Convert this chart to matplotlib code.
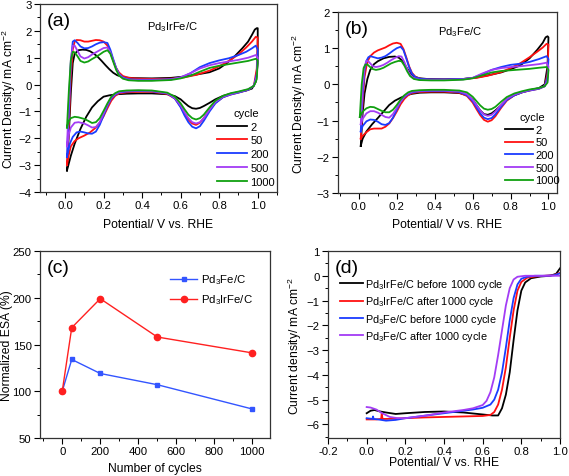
import matplotlib
matplotlib.use("Agg")
import matplotlib.pyplot as plt
from matplotlib.ticker import MultipleLocator, AutoMinorLocator, FormatStrFormatter

plt.rcParams['font.family'] = ['Liberation Sans', 'DejaVu Sans']
plt.rcParams['mathtext.default'] = 'regular'

# ---- data ----
cycles = ['2', '50', '200', '500', '1000']
cycle_colors = ['#000000', '#ff1010', '#1a3cff', '#a33cf5', '#10a010']

# (a) Pd3IrFe/C CV loops: anodic 0->1 V then cathodic 1->0 V
a2_x = [0.01, 0.02, 0.03, 0.04, 0.05, 0.07, 0.09, 0.11, 0.13, 0.15, 0.17, 0.19, 0.21, 0.23, 0.25, 0.27, 0.29, 0.32, 0.36, 0.45, 0.55, 0.62, 0.68, 0.75, 0.8, 0.84, 0.88, 0.92, 0.95, 0.97, 0.985, 0.995,
        1.0, 1.0, 0.99, 0.97, 0.94, 0.9, 0.86, 0.82, 0.78, 0.75, 0.72, 0.7, 0.68, 0.66, 0.64, 0.62, 0.6, 0.57, 0.53, 0.45, 0.38, 0.32, 0.27, 0.23, 0.2, 0.17, 0.14, 0.11, 0.08, 0.05, 0.03, 0.01]
a2_y = [-3.2, -1.8, -0.3, 0.8, 1.15, 1.28, 1.3, 1.29, 1.24, 1.15, 1.03, 0.88, 0.72, 0.57, 0.44, 0.35, 0.3, 0.26, 0.24, 0.23, 0.25, 0.3, 0.37, 0.46, 0.6, 0.8, 1.05, 1.35, 1.6, 1.85, 2.05, 2.1,
        2.1, 0.8, 0.1, -0.15, -0.22, -0.28, -0.34, -0.42, -0.55, -0.68, -0.8, -0.87, -0.9, -0.88, -0.8, -0.68, -0.55, -0.43, -0.36, -0.33, -0.33, -0.34, -0.36, -0.4, -0.45, -0.62, -0.85, -1.2, -1.65, -2.2, -2.65, -3.2]
a50_x = [0.01, 0.02, 0.03, 0.04, 0.05, 0.06, 0.08, 0.1, 0.12, 0.14, 0.16, 0.18, 0.2, 0.22, 0.235, 0.25, 0.265, 0.28, 0.3, 0.33, 0.38, 0.45, 0.55, 0.62, 0.68, 0.75, 0.8, 0.85, 0.9, 0.94, 0.97, 0.99, 1.0,
         1.0, 0.995, 0.98, 0.95, 0.9, 0.86, 0.82, 0.78, 0.75, 0.72, 0.7, 0.68, 0.66, 0.64, 0.62, 0.6, 0.57, 0.53, 0.45, 0.38, 0.32, 0.28, 0.26, 0.24, 0.22, 0.2, 0.18, 0.16, 0.13, 0.1, 0.07, 0.05, 0.03, 0.02, 0.01]
a50_y = [-3.0, -1.5, 0.3, 1.3, 1.6, 1.66, 1.65, 1.6, 1.6, 1.63, 1.66, 1.65, 1.6, 1.45, 1.2, 0.9, 0.62, 0.45, 0.32, 0.25, 0.22, 0.21, 0.22, 0.27, 0.36, 0.52, 0.68, 0.88, 1.12, 1.38, 1.6, 1.78, 1.75,
         1.75, 0.6, -0.05, -0.2, -0.3, -0.37, -0.47, -0.68, -0.95, -1.25, -1.42, -1.5, -1.45, -1.3, -1.08, -0.82, -0.52, -0.35, -0.27, -0.27, -0.29, -0.33, -0.42, -0.6, -0.88, -1.18, -1.42, -1.6, -1.78, -1.9, -2.0, -2.1, -2.3, -2.6, -3.0]
a200_x = [0.01, 0.02, 0.03, 0.04, 0.05, 0.065, 0.08, 0.1, 0.12, 0.14, 0.16, 0.18, 0.2, 0.22, 0.235, 0.25, 0.265, 0.28, 0.3, 0.33, 0.38, 0.45, 0.55, 0.6, 0.65, 0.7, 0.75, 0.8, 0.85, 0.9, 0.94, 0.97, 0.99, 1.0,
          1.0, 0.995, 0.98, 0.95, 0.9, 0.86, 0.82, 0.78, 0.75, 0.72, 0.7, 0.68, 0.66, 0.64, 0.62, 0.6, 0.57, 0.53, 0.45, 0.38, 0.32, 0.28, 0.26, 0.24, 0.22, 0.2, 0.18, 0.16, 0.14, 0.12, 0.1, 0.08, 0.06, 0.04, 0.025, 0.01]
a200_y = [-2.7, -1.0, 0.8, 1.6, 1.65, 1.55, 1.42, 1.35, 1.36, 1.42, 1.5, 1.56, 1.58, 1.55, 1.3, 0.95, 0.62, 0.4, 0.27, 0.2, 0.18, 0.18, 0.2, 0.26, 0.42, 0.65, 0.8, 0.9, 0.98, 1.1, 1.22, 1.35, 1.45, 1.3,
          1.3, 0.4, -0.05, -0.2, -0.3, -0.37, -0.47, -0.7, -1.0, -1.35, -1.55, -1.63, -1.57, -1.4, -1.15, -0.85, -0.52, -0.33, -0.25, -0.24, -0.26, -0.3, -0.38, -0.52, -0.8, -1.15, -1.5, -1.75, -1.83, -1.82, -1.78, -1.75, -1.78, -1.95, -2.2, -2.7]
a500_x = [0.01, 0.02, 0.03, 0.04, 0.05, 0.065, 0.08, 0.1, 0.12, 0.14, 0.16, 0.18, 0.2, 0.22, 0.235, 0.25, 0.265, 0.28, 0.3, 0.33, 0.38, 0.45, 0.55, 0.6, 0.65, 0.7, 0.75, 0.8, 0.85, 0.9, 0.95, 0.99, 1.0,
          1.0, 0.995, 0.98, 0.95, 0.9, 0.86, 0.82, 0.78, 0.75, 0.72, 0.7, 0.68, 0.66, 0.64, 0.62, 0.6, 0.57, 0.53, 0.45, 0.38, 0.32, 0.28, 0.26, 0.24, 0.22, 0.2, 0.18, 0.16, 0.14, 0.12, 0.1, 0.07, 0.05, 0.03, 0.02, 0.01]
a500_y = [-2.3, -0.6, 0.9, 1.45, 1.45, 1.25, 1.05, 0.97, 1.02, 1.12, 1.2, 1.28, 1.36, 1.38, 1.2, 0.9, 0.6, 0.38, 0.24, 0.18, 0.16, 0.16, 0.19, 0.27, 0.42, 0.6, 0.72, 0.8, 0.86, 0.92, 1.0, 1.1, 1.0,
          1.0, 0.3, -0.05, -0.18, -0.28, -0.35, -0.45, -0.65, -0.93, -1.25, -1.4, -1.45, -1.4, -1.25, -1.03, -0.78, -0.5, -0.32, -0.24, -0.23, -0.24, -0.28, -0.35, -0.48, -0.75, -1.08, -1.4, -1.58, -1.6, -1.52, -1.45, -1.4, -1.42, -1.6, -1.85, -2.3]
a1000_x = [0.01, 0.02, 0.03, 0.04, 0.05, 0.065, 0.08, 0.1, 0.12, 0.14, 0.16, 0.18, 0.2, 0.22, 0.235, 0.25, 0.265, 0.28, 0.3, 0.33, 0.38, 0.45, 0.55, 0.6, 0.65, 0.7, 0.75, 0.8, 0.85, 0.9, 0.95, 0.99, 1.0,
           1.0, 0.995, 0.98, 0.95, 0.9, 0.86, 0.82, 0.78, 0.75, 0.72, 0.7, 0.68, 0.66, 0.64, 0.62, 0.6, 0.57, 0.53, 0.45, 0.38, 0.32, 0.28, 0.26, 0.24, 0.22, 0.2, 0.18, 0.16, 0.14, 0.12, 0.1, 0.07, 0.05, 0.03, 0.02, 0.01]
a1000_y = [-1.6, -0.2, 0.9, 1.22, 1.2, 1.05, 0.88, 0.82, 0.86, 0.95, 1.03, 1.12, 1.22, 1.28, 1.15, 0.85, 0.55, 0.34, 0.22, 0.16, 0.14, 0.14, 0.17, 0.23, 0.33, 0.48, 0.62, 0.7, 0.76, 0.82, 0.88, 0.96, 0.9,
           0.9, 0.2, -0.05, -0.17, -0.26, -0.32, -0.42, -0.6, -0.85, -1.12, -1.25, -1.3, -1.25, -1.12, -0.92, -0.7, -0.45, -0.3, -0.22, -0.21, -0.22, -0.25, -0.32, -0.45, -0.7, -0.98, -1.25, -1.4, -1.43, -1.35, -1.28, -1.22, -1.2, -1.25, -1.35, -1.6]

# (b) Pd3Fe/C CV loops
b2_x = [0.01, 0.02, 0.03, 0.045, 0.06, 0.08, 0.1, 0.13, 0.16, 0.19, 0.21, 0.23, 0.25, 0.27, 0.29, 0.32, 0.36, 0.45, 0.55, 0.62, 0.68, 0.75, 0.8, 0.85, 0.9, 0.94, 0.97, 0.985, 0.995, 1.0,
        1.0, 0.995, 0.98, 0.95, 0.9, 0.86, 0.82, 0.78, 0.75, 0.72, 0.7, 0.68, 0.66, 0.64, 0.62, 0.6, 0.57, 0.53, 0.45, 0.38, 0.32, 0.28, 0.25, 0.22, 0.19, 0.16, 0.13, 0.1, 0.07, 0.04, 0.02, 0.01]
b2_y = [-1.7, -0.8, -0.25, 0.15, 0.4, 0.56, 0.64, 0.72, 0.76, 0.77, 0.74, 0.65, 0.48, 0.32, 0.22, 0.17, 0.15, 0.14, 0.15, 0.19, 0.25, 0.33, 0.42, 0.52, 0.72, 0.95, 1.15, 1.3, 1.33, 1.3,
        1.3, 0.5, 0.0, -0.1, -0.16, -0.22, -0.3, -0.42, -0.58, -0.72, -0.8, -0.84, -0.82, -0.72, -0.57, -0.42, -0.3, -0.24, -0.22, -0.22, -0.23, -0.26, -0.3, -0.37, -0.45, -0.57, -0.75, -0.93, -1.1, -1.3, -1.5, -1.7]
b50_x = [0.01, 0.02, 0.03, 0.04, 0.05, 0.06, 0.08, 0.1, 0.12, 0.14, 0.16, 0.18, 0.2, 0.22, 0.235, 0.25, 0.265, 0.28, 0.3, 0.33, 0.38, 0.45, 0.55, 0.62, 0.68, 0.75, 0.8, 0.85, 0.9, 0.94, 0.97, 0.99, 1.0,
         1.0, 0.995, 0.98, 0.95, 0.9, 0.86, 0.82, 0.78, 0.75, 0.72, 0.7, 0.68, 0.66, 0.64, 0.62, 0.6, 0.57, 0.53, 0.45, 0.38, 0.32, 0.28, 0.26, 0.24, 0.22, 0.2, 0.18, 0.16, 0.14, 0.12, 0.1, 0.08, 0.06, 0.04, 0.02, 0.01]
b50_y = [-1.5, -0.5, 0.2, 0.5, 0.68, 0.78, 0.88, 0.94, 0.98, 1.02, 1.08, 1.13, 1.15, 1.12, 0.98, 0.75, 0.5, 0.32, 0.2, 0.15, 0.14, 0.14, 0.15, 0.18, 0.24, 0.34, 0.45, 0.58, 0.75, 0.9, 1.02, 1.12, 1.1,
         1.1, 0.3, -0.05, -0.12, -0.17, -0.22, -0.3, -0.45, -0.65, -0.88, -0.99, -1.03, -0.98, -0.85, -0.68, -0.5, -0.32, -0.23, -0.2, -0.2, -0.21, -0.24, -0.3, -0.4, -0.55, -0.75, -0.93, -1.08, -1.17, -1.22, -1.22, -1.22, -1.24, -1.32, -1.42, -1.5]
b200_x = [0.01, 0.02, 0.03, 0.04, 0.05, 0.06, 0.08, 0.1, 0.12, 0.14, 0.16, 0.18, 0.2, 0.22, 0.235, 0.25, 0.265, 0.28, 0.3, 0.33, 0.38, 0.45, 0.55, 0.6, 0.65, 0.7, 0.75, 0.8, 0.85, 0.9, 0.95, 0.99, 1.0,
          1.0, 0.995, 0.98, 0.95, 0.9, 0.86, 0.82, 0.78, 0.75, 0.72, 0.7, 0.68, 0.66, 0.64, 0.62, 0.6, 0.57, 0.53, 0.45, 0.38, 0.32, 0.28, 0.26, 0.24, 0.22, 0.2, 0.18, 0.16, 0.14, 0.12, 0.1, 0.08, 0.06, 0.04, 0.02, 0.01]
b200_y = [-1.3, -0.3, 0.4, 0.65, 0.75, 0.78, 0.75, 0.72, 0.74, 0.78, 0.85, 0.93, 1.0, 1.04, 0.95, 0.72, 0.48, 0.3, 0.19, 0.15, 0.14, 0.14, 0.15, 0.18, 0.28, 0.4, 0.48, 0.54, 0.57, 0.62, 0.7, 0.78, 0.7,
          0.7, 0.2, -0.05, -0.12, -0.17, -0.22, -0.3, -0.43, -0.62, -0.83, -0.93, -0.96, -0.92, -0.8, -0.63, -0.46, -0.3, -0.21, -0.18, -0.18, -0.19, -0.22, -0.27, -0.35, -0.48, -0.7, -0.92, -1.07, -1.12, -1.1, -1.03, -0.98, -0.97, -1.02, -1.15, -1.3]
b500_x = [0.01, 0.02, 0.03, 0.04, 0.05, 0.06, 0.075, 0.09, 0.11, 0.13, 0.15, 0.17, 0.19, 0.21, 0.225, 0.24, 0.255, 0.27, 0.29, 0.32, 0.38, 0.45, 0.55, 0.6, 0.65, 0.7, 0.75, 0.8, 0.85, 0.9, 0.95, 0.99, 1.0,
          1.0, 0.995, 0.98, 0.95, 0.9, 0.86, 0.82, 0.78, 0.75, 0.72, 0.7, 0.68, 0.66, 0.64, 0.62, 0.6, 0.57, 0.53, 0.45, 0.38, 0.32, 0.28, 0.26, 0.24, 0.22, 0.2, 0.18, 0.16, 0.14, 0.12, 0.1, 0.08, 0.06, 0.04, 0.02, 0.01]
b500_y = [-1.1, -0.1, 0.5, 0.65, 0.64, 0.58, 0.5, 0.48, 0.5, 0.54, 0.6, 0.67, 0.73, 0.78, 0.77, 0.62, 0.42, 0.27, 0.17, 0.13, 0.12, 0.12, 0.14, 0.18, 0.3, 0.4, 0.45, 0.48, 0.5, 0.53, 0.56, 0.6, 0.5,
          0.5, 0.1, -0.05, -0.11, -0.16, -0.21, -0.28, -0.4, -0.57, -0.75, -0.84, -0.87, -0.83, -0.72, -0.57, -0.42, -0.27, -0.19, -0.17, -0.17, -0.18, -0.2, -0.25, -0.33, -0.47, -0.65, -0.82, -0.92, -0.9, -0.84, -0.78, -0.74, -0.74, -0.8, -0.95, -1.1]
b1000_x = [0.005, 0.015, 0.025, 0.035, 0.045, 0.055, 0.07, 0.09, 0.11, 0.13, 0.15, 0.17, 0.19, 0.21, 0.225, 0.24, 0.255, 0.27, 0.29, 0.32, 0.38, 0.45, 0.55, 0.6, 0.65, 0.7, 0.75, 0.8, 0.85, 0.9, 0.95, 0.99, 1.0,
           1.0, 0.995, 0.98, 0.95, 0.9, 0.86, 0.82, 0.78, 0.75, 0.72, 0.7, 0.68, 0.66, 0.64, 0.62, 0.6, 0.57, 0.53, 0.45, 0.38, 0.32, 0.28, 0.26, 0.24, 0.22, 0.2, 0.18, 0.16, 0.14, 0.12, 0.1, 0.08, 0.06, 0.04, 0.02, 0.005]
b1000_y = [-0.9, 0.0, 0.45, 0.55, 0.55, 0.5, 0.43, 0.4, 0.42, 0.46, 0.52, 0.58, 0.62, 0.65, 0.64, 0.52, 0.36, 0.23, 0.15, 0.12, 0.11, 0.11, 0.13, 0.17, 0.25, 0.33, 0.37, 0.39, 0.41, 0.43, 0.46, 0.48, 0.4,
           0.4, 0.05, -0.05, -0.1, -0.14, -0.19, -0.25, -0.35, -0.48, -0.62, -0.68, -0.7, -0.67, -0.58, -0.46, -0.34, -0.22, -0.17, -0.15, -0.15, -0.16, -0.18, -0.22, -0.3, -0.42, -0.57, -0.7, -0.77, -0.77, -0.73, -0.68, -0.63, -0.62, -0.66, -0.75, -0.9]

# (c) normalized ESA
esa_cycles = [0, 50, 200, 500, 1000]
esa_pd3fe = [100, 134, 119, 107, 81]
esa_pd3irfe = [100, 168, 199, 158, 141]

# (d) ORR polarization curves
d_black_x = [0.0, 0.02, 0.04, 0.07, 0.1, 0.15, 0.2, 0.3, 0.4, 0.5, 0.6, 0.65, 0.68, 0.7, 0.72, 0.74, 0.76, 0.78, 0.8, 0.82, 0.85, 0.9, 0.95, 0.98, 1.0]
d_black_y = [-5.55, -5.45, -5.42, -5.48, -5.52, -5.58, -5.55, -5.5, -5.48, -5.52, -5.6, -5.64, -5.64, -5.35, -4.8, -3.9, -2.6, -1.4, -0.6, -0.27, -0.1, -0.03, 0.0, 0.08, 0.3]
d_red_x = [0.0, 0.05, 0.075, 0.078, 0.082, 0.1, 0.2, 0.3, 0.4, 0.5, 0.6, 0.64, 0.66, 0.68, 0.7, 0.72, 0.74, 0.76, 0.78, 0.8, 0.83, 0.87, 0.92, 0.97, 1.0]
d_red_y = [-5.8, -5.8, -5.78, -5.55, -5.78, -5.78, -5.75, -5.72, -5.7, -5.68, -5.66, -5.62, -5.5, -5.2, -4.6, -3.7, -2.5, -1.4, -0.6, -0.25, -0.08, -0.03, 0.0, 0.03, 0.12]
d_blue_x = [0.0, 0.03, 0.033, 0.036, 0.06, 0.1, 0.15, 0.2, 0.3, 0.4, 0.5, 0.55, 0.6, 0.64, 0.66, 0.68, 0.7, 0.72, 0.74, 0.76, 0.78, 0.8, 0.83, 0.87, 0.92, 0.97, 1.0]
d_blue_y = [-5.75, -5.78, -5.68, -5.78, -5.8, -5.85, -5.82, -5.75, -5.65, -5.55, -5.45, -5.4, -5.33, -5.2, -5.0, -4.6, -3.9, -2.9, -1.8, -0.9, -0.35, -0.12, -0.04, 0.0, 0.0, 0.02, 0.1]
d_purple_x = [0.0, 0.02, 0.05, 0.08, 0.12, 0.16, 0.2, 0.3, 0.4, 0.5, 0.55, 0.6, 0.62, 0.64, 0.66, 0.68, 0.7, 0.72, 0.74, 0.76, 0.78, 0.82, 0.9, 1.0]
d_purple_y = [-5.3, -5.32, -5.4, -5.55, -5.7, -5.75, -5.75, -5.65, -5.52, -5.42, -5.35, -5.22, -5.05, -4.7, -4.1, -3.2, -2.2, -1.2, -0.5, -0.15, -0.04, 0.0, 0.0, 0.0]
d_labels = ['Pd$_3$IrFe/C before 1000 cycle', 'Pd$_3$IrFe/C after 1000 cycle',
            'Pd$_3$Fe/C before 1000 cycle', 'Pd$_3$Fe/C after 1000 cycle']
d_colors = ['#000000', '#ff1010', '#1a3cff', '#a33cf5']

W, H = 569, 477
TICK_FS = 8.2
LABEL_FS = 8.7


def place(px_left, px_top, px_right, px_bottom):
    return [px_left / W, 1 - px_bottom / H, (px_right - px_left) / W, (px_bottom - px_top) / H]


def style_axes(ax, xmaj, ymaj):
    ax.xaxis.set_major_locator(MultipleLocator(xmaj))
    ax.xaxis.set_minor_locator(AutoMinorLocator(2))
    ax.yaxis.set_major_locator(MultipleLocator(ymaj))
    ax.yaxis.set_minor_locator(AutoMinorLocator(2))
    for s in ax.spines.values():
        s.set_linewidth(0.9)
        s.set_color('#333333')
    ax.tick_params(which='major', direction='out', length=4, width=0.8, labelsize=TICK_FS, pad=2)
    ax.tick_params(which='minor', direction='out', length=2, width=0.7)


fig = plt.figure(figsize=(W / 100, H / 100), dpi=100)

# ---- (a) ----
ax = fig.add_axes(place(40, 5, 277, 193))
a_x = [a2_x, a50_x, a200_x, a500_x, a1000_x]
a_y = [a2_y, a50_y, a200_y, a500_y, a1000_y]
for xs, ys, c, lab in zip(a_x, a_y, cycle_colors, cycles):
    ax.plot(xs, ys, color=c, lw=1.3, label=lab)
ax.set_xlim(-0.13, 1.1)
ax.set_ylim(-4, 3)
style_axes(ax, 0.2, 1)
ax.xaxis.set_major_formatter(FormatStrFormatter('%.1f'))
ax.set_xlabel('Potential/ V vs. RHE', fontsize=LABEL_FS)
ax.set_ylabel('Current Density/ mA cm$^{-2}$', fontsize=LABEL_FS)
ax.xaxis.set_label_coords(0.5, -0.138)
ax.yaxis.set_label_coords(-0.093, 0.5)
ax.text(0.03, 0.955, '(a)', transform=ax.transAxes, fontsize=14, va='top')
ax.text(0.557, 0.883, 'Pd$_3$IrFe/C', transform=ax.transAxes, fontsize=8, ha='center', va='center')
ax.legend(title='cycle', loc='upper left', bbox_to_anchor=(0.747, 0.448), frameon=False,
          fontsize=8, title_fontsize=8, handlelength=2.7, handletextpad=0.3,
          labelspacing=0.34, borderpad=0, borderaxespad=0)

# ---- (b) ----
ax = fig.add_axes(place(338, 13, 557, 194))
b_x = [b2_x, b50_x, b200_x, b500_x, b1000_x]
b_y = [b2_y, b50_y, b200_y, b500_y, b1000_y]
for xs, ys, c, lab in zip(b_x, b_y, cycle_colors, cycles):
    ax.plot(xs, ys, color=c, lw=1.3, label=lab)
ax.set_xlim(-0.11, 1.045)
ax.set_ylim(-3, 2)
style_axes(ax, 0.2, 1)
ax.xaxis.set_major_formatter(FormatStrFormatter('%.1f'))
ax.set_xlabel('Potential/ V vs. RHE', fontsize=LABEL_FS)
ax.set_ylabel('Current Density/ mA cm$^{-2}$', fontsize=LABEL_FS)
ax.xaxis.set_label_coords(0.5, -0.136)
ax.yaxis.set_label_coords(-0.137, 0.5)
ax.text(0.03, 0.955, '(b)', transform=ax.transAxes, fontsize=14, va='top')
ax.text(0.557, 0.897, 'Pd$_3$Fe/C', transform=ax.transAxes, fontsize=8, ha='center', va='center')
ax.legend(title='cycle', loc='upper left', bbox_to_anchor=(0.763, 0.447), frameon=False,
          fontsize=8, title_fontsize=8, handlelength=2.5, handletextpad=0.2,
          labelspacing=0.24, borderpad=0, borderaxespad=0)

# ---- (c) ----
ax = fig.add_axes(place(40, 252, 270, 439))
ax.plot(esa_cycles, esa_pd3fe, color='#3355ff', lw=1.0, marker='s', ms=3.5, label='Pd$_3$Fe/C')
ax.plot(esa_cycles, esa_pd3irfe, color='#ff2020', lw=1.0, marker='o', ms=4.5, label='Pd$_3$IrFe/C')
ax.set_xlim(-117, 1093)
ax.set_ylim(50, 250)
style_axes(ax, 200, 50)
ax.set_xlabel('Number of cycles', fontsize=LABEL_FS)
ax.set_ylabel('Normalized ESA (%)', fontsize=LABEL_FS)
ax.xaxis.set_label_coords(0.5, -0.128)
ax.yaxis.set_label_coords(-0.117, 0.5)
ax.text(0.03, 0.955, '(c)', transform=ax.transAxes, fontsize=14, va='top')
ax.legend(loc='upper left', bbox_to_anchor=(0.565, 0.885), frameon=False, fontsize=8.2,
          handlelength=2.4, handletextpad=0.3, labelspacing=0.55, borderpad=0, borderaxespad=0)

# ---- (d) ----
ax = fig.add_axes(place(328, 252, 560, 439))
d_x = [d_black_x, d_red_x, d_blue_x, d_purple_x]
d_y = [d_black_y, d_red_y, d_blue_y, d_purple_y]
for xs, ys, c, lab in zip(d_x, d_y, d_colors, d_labels):
    ax.plot(xs, ys, color=c, lw=1.3, label=lab)
ax.set_xlim(-0.2, 1.0)
ax.set_ylim(-6.55, 1)
style_axes(ax, 0.2, 1)
ax.xaxis.set_major_formatter(FormatStrFormatter('%.1f'))
ax.set_xlabel('Potential/ V vs. RHE', fontsize=LABEL_FS)
ax.set_ylabel('Current density/ mA cm$^{-2}$', fontsize=LABEL_FS)
ax.xaxis.set_label_coords(0.5, -0.096)
ax.yaxis.set_label_coords(-0.103, 0.5)
ax.text(0.03, 0.955, '(d)', transform=ax.transAxes, fontsize=14, va='top')
ax.legend(loc='upper left', bbox_to_anchor=(0.052, 0.86), frameon=False, fontsize=7.8,
          handlelength=2.1, handletextpad=0.2, labelspacing=0.3, borderpad=0, borderaxespad=0)

fig.savefig('out.png', dpi=100)
